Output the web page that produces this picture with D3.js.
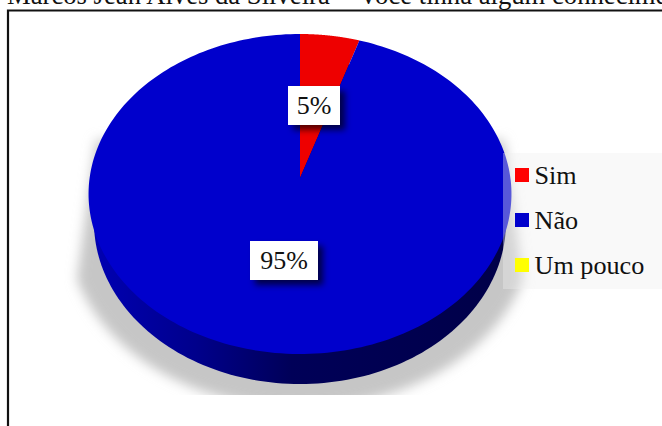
<!DOCTYPE html>
<html>
<head>
<meta charset="utf-8">
<script src="https://cdn.jsdelivr.net/npm/d3@7"></script>
<style>
html,body{margin:0;padding:0;background:#fff;overflow:hidden}
svg{display:block}
text{font-family:"Liberation Serif","Times New Roman",serif;fill:#111}
</style>
</head>
<body>
<svg id="chart" width="662" height="426"></svg>
<script>
const titleLead = "Marcos Jean Alves da Silveira –";
const titleRest = "você tinha algum conhecimento";
const categories = ["Sim", "Não", "Um pouco"];
const shares = [5, 95, 0];
const sliceColors = ["#ee0000", "#0000cc", "#ffff00"];
const legendColors = ["#ff0000", "#0000cc", "#ffff00"];

const W = 662, H = 426;
const svg = d3.select("#chart");
const defs = svg.append("defs");

// Tilted discs: a unit circle pushed through a perspective projection
const topDisc = {cx: 300, cy: 178, rx: 210.4, ry: 158.4};
const baseDisc = {cx: 300, cy: 205.8, rx: 205, ry: 160.4};
const shadowDisc = {cx: 300, cy: 212, rx: 231, ry: 176};
const tilt = 0.1;
function project(disc, angle) {
  const u = Math.sin(angle), v = Math.cos(angle);
  const w = 1 + tilt * v;
  return [disc.cx + disc.rx * u / w, disc.cy - disc.ry * v / w];
}
const line = d3.line();
const rim = (disc, a0, a1) =>
  d3.range(0, 241).map(i => project(disc, a0 + (a1 - a0) * i / 240));

const pieAngles = d3.pie().sort(null).value(d => d)(shares);

defs.append("filter").attr("id", "dropBlur")
  .attr("x", "-10%").attr("y", "-10%").attr("width", "120%").attr("height", "120%")
  .append("feGaussianBlur").attr("stdDeviation", 6);
defs.append("filter").attr("id", "boxBlur")
  .attr("x", "-30%").attr("y", "-30%").attr("width", "160%").attr("height", "160%")
  .append("feGaussianBlur").attr("stdDeviation", 3);
defs.append("clipPath").attr("id", "shadowClip")
  .append("rect").attr("x", 50).attr("y", 120).attr("width", 500).attr("height", 275);

const wallGrad = defs.append("linearGradient").attr("id", "wallGrad")
  .attr("gradientUnits", "userSpaceOnUse")
  .attr("x1", 90).attr("x2", 510).attr("y1", 0).attr("y2", 0);
[["0%", "#0000b4"], ["25%", "#00008c"], ["48%", "#000058"], ["100%", "#000048"]]
  .forEach(([o, c]) => wallGrad.append("stop").attr("offset", o).attr("stop-color", c));

// Frame and heading cut by the top edge
const heading = svg.append("text").attr("x", 7).attr("y", 4).attr("font-size", 26.67);
heading.append("tspan").text(titleLead);
heading.append("tspan").attr("dx", 12).text(titleRest);
svg.append("path")
  .attr("d", `M8 ${H}V10.5H${W}`)
  .attr("fill", "none").attr("stroke", "#111").attr("stroke-width", 2.2);

// Soft ground shadow: lower arc of a wide disc, closed towards the upper flanks
const shadowArc = rim(shadowDisc, Math.PI * 0.62, Math.PI * 1.38);
const shadowTop = [[shadowDisc.cx - 204, 140], [shadowDisc.cx + 204, 140]];
svg.append("g").attr("clip-path", "url(#shadowClip)")
  .append("path")
  .attr("d", line(shadowArc.concat(shadowTop)) + "Z")
  .attr("fill", "#c6c6c6")
  .attr("filter", "url(#dropBlur)");

// Base of the disc, showing below the top surface as its wall
svg.append("path")
  .attr("d", line(rim(baseDisc, 0, 2 * Math.PI)) + "Z")
  .attr("fill", "url(#wallGrad)");

// Top surface slices, drawn from the pie layout
svg.append("g").selectAll("path")
  .data(pieAngles.filter(d => d.value > 0))
  .join("path")
  .attr("d", d => line([[topDisc.cx, topDisc.cy]]
    .concat(rim(topDisc, d.startAngle, d.endAngle))) + "Z")
  .attr("fill", d => sliceColors[d.index]);

// Legend panel, translucent over the disc and its shadow
const legendX = 503, legendY = 153;
svg.append("rect").attr("x", legendX).attr("y", legendY)
  .attr("width", W - legendX).attr("height", 136)
  .attr("fill", "#f0f0f0").attr("fill-opacity", 0.37);

// Value labels
const labelBoxes = [
  {i: 0, cx: 314, cy: 105.5, w: 52, h: 39},
  {i: 1, cx: 284, cy: 260.5, w: 68, h: 39}
];
const labels = svg.append("g").selectAll("g").data(labelBoxes).join("g");
labels.append("rect")
  .attr("x", d => d.cx - d.w / 2 + 5).attr("y", d => d.cy - d.h / 2 + 5)
  .attr("width", d => d.w).attr("height", d => d.h)
  .attr("fill", "#000").attr("fill-opacity", 0.65).attr("filter", "url(#boxBlur)");
labels.append("rect")
  .attr("x", d => d.cx - d.w / 2).attr("y", d => d.cy - d.h / 2)
  .attr("width", d => d.w).attr("height", d => d.h).attr("fill", "#fff");
labels.append("text")
  .attr("x", d => d.cx).attr("y", d => d.cy + 8.5)
  .attr("text-anchor", "middle").attr("font-size", 26)
  .text(d => shares[d.i] + "%");

// Legend entries
const legendRow = d3.scalePoint().domain(categories).range([175, 265]);
const entries = svg.append("g").selectAll("g").data(categories).join("g");
entries.append("rect")
  .attr("x", 515).attr("y", d => legendRow(d) - 7)
  .attr("width", 14).attr("height", 14)
  .attr("fill", (d, i) => legendColors[i]);
entries.append("text")
  .attr("x", 534.5).attr("y", d => legendRow(d) + 8.5)
  .attr("font-size", 26.2).text(d => d);
</script>
</body>
</html>
